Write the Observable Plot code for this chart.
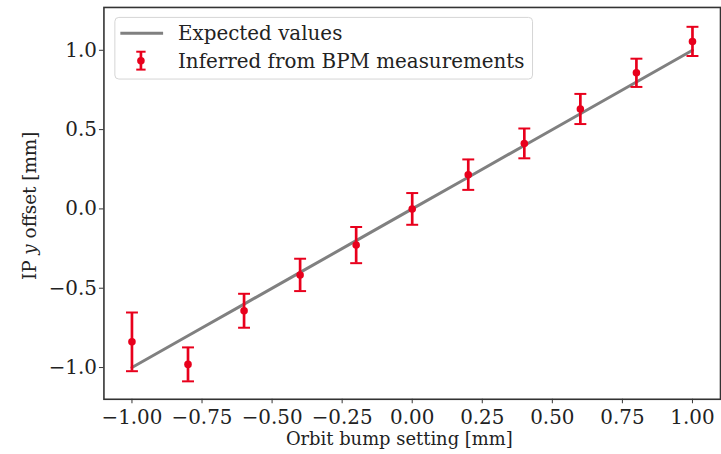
<!DOCTYPE html>
<html>
<head>
<meta charset="utf-8">
<script src="https://cdn.jsdelivr.net/npm/d3@7"></script>
<script src="https://cdn.jsdelivr.net/npm/@observablehq/plot@0.6"></script>
<style>
  html, body { margin: 0; padding: 0; background: #fff; overflow: hidden; }
  #chart { width: 721px; height: 454px; overflow: hidden; }
</style>
</head>
<body>
<div id="chart"></div>
<script>
// Data
const settings = [-1.0, -0.8, -0.6, -0.4, -0.2, 0.0, 0.2, 0.4, 0.6, 0.8, 1.0];
const expected = [-1.0, -0.8, -0.6, -0.4, -0.2, 0.0, 0.2, 0.4, 0.6, 0.8, 1.0];
const inferred = [-0.838, -0.980, -0.642, -0.416, -0.228, 0.000, 0.216, 0.413, 0.630, 0.858, 1.056];
const errors   = [0.185, 0.107, 0.107, 0.102, 0.114, 0.100, 0.096, 0.094, 0.095, 0.089, 0.092];
const xTicks = [-1.0, -0.75, -0.5, -0.25, 0.0, 0.25, 0.5, 0.75, 1.0];
const yTicks = [-1.0, -0.5, 0.0, 0.5, 1.0];
const labels = {
  x: "Orbit bump setting [mm]",
  y: "IP y offset [mm]",
  line: "Expected values",
  points: "Inferred from BPM measurements"
};

const rows = settings.map((s, i) => ({
  s, e: expected[i], v: inferred[i], lo: inferred[i] - errors[i], hi: inferred[i] + errors[i]
}));

const RED = "#e8001c";
const GRAY = "#808080";
const FONT = "'DejaVu Serif', serif";

const capSymbol = {
  draw(ctx, size) {
    const r = Math.sqrt(size / Math.PI);
    ctx.moveTo(-r, 0);
    ctx.lineTo(r, 0);
  }
};

const plot = Plot.plot({
  width: 725,
  height: 454,
  marginLeft: 104,
  marginRight: 1,
  marginTop: 7,
  marginBottom: 53,
  style: { fontFamily: FONT, fontSize: "20px", color: "#222", background: "transparent" },
  x: { domain: [-1.1, 1.1] },
  y: { domain: [-1.2, 1.27] },
  marks: [
    Plot.axisX({ ticks: xTicks, tickFormat: d3.format(".2f"), tickSize: 4.5, tickPadding: 6, label: null, stroke: "#333", fontSize: 20 }),
    Plot.axisY({ ticks: yTicks, tickFormat: d3.format(".1f"), tickSize: 4.5, tickPadding: 2.5, label: null, stroke: "#333", fontSize: 20 }),
    Plot.line(rows, { x: "s", y: "e", stroke: GRAY, strokeWidth: 3 }),
    Plot.ruleX(rows, { x: "s", y1: "lo", y2: "hi", stroke: RED, strokeWidth: 2.7 }),
    Plot.dot(rows, { x: "s", y: "lo", symbol: capSymbol, r: 6, stroke: RED, strokeWidth: 2, fill: "none" }),
    Plot.dot(rows, { x: "s", y: "hi", symbol: capSymbol, r: 6, stroke: RED, strokeWidth: 2, fill: "none" }),
    Plot.dot(rows, { x: "s", y: "v", r: 3.8, fill: RED, stroke: "none" }),
    Plot.frame({ stroke: "#333", strokeWidth: 1.6 }),
    Plot.text([labels.x], { frameAnchor: "bottom", dx: -13, dy: 40.5, lineAnchor: "middle", fontSize: 18, fill: "#222" }),
    Plot.text([labels.y], { frameAnchor: "left", rotate: -90, dx: -74, dy: 2.5, lineAnchor: "middle", textAnchor: "middle", fontSize: 18.5, fill: "#222" })
  ]
});

// italic y in the y label
const svg = d3.select(plot);
svg.selectAll("text").each(function () {
  if (this.textContent === labels.y) {
    const t = d3.select(this);
    t.text(null);
    t.append("tspan").text("IP ");
    t.append("tspan").attr("font-style", "italic").text("y");
    t.append("tspan").text(" offset [mm]");
  }
});

// legend
const lg = svg.append("g").attr("font-family", FONT).attr("font-size", 20).attr("fill", "#222").attr("text-anchor", "start");
lg.append("rect").attr("x", 115.5).attr("y", 17.5).attr("width", 420).attr("height", 62)
  .attr("rx", 4).attr("fill", "white").attr("fill-opacity", 0.8).attr("stroke", "#d5d5d5").attr("stroke-width", 1);
lg.append("line").attr("x1", 121).attr("x2", 164).attr("y1", 33.5).attr("y2", 33.5)
  .attr("stroke", GRAY).attr("stroke-width", 3);
lg.append("text").attr("x", 179).attr("y", 40.5).text(labels.line);
lg.append("line").attr("x1", 141.7).attr("x2", 141.7).attr("y1", 52).attr("y2", 70)
  .attr("stroke", RED).attr("stroke-width", 2.7);
lg.append("line").attr("x1", 137).attr("x2", 146.4).attr("y1", 52).attr("y2", 52).attr("stroke", RED).attr("stroke-width", 2);
lg.append("line").attr("x1", 137).attr("x2", 146.4).attr("y1", 70).attr("y2", 70).attr("stroke", RED).attr("stroke-width", 2);
lg.append("circle").attr("cx", 141.7).attr("cy", 61).attr("r", 3.8).attr("fill", RED);
lg.append("text").attr("x", 179).attr("y", 68).text(labels.points);

document.getElementById("chart").append(plot);
</script>
</body>
</html>
